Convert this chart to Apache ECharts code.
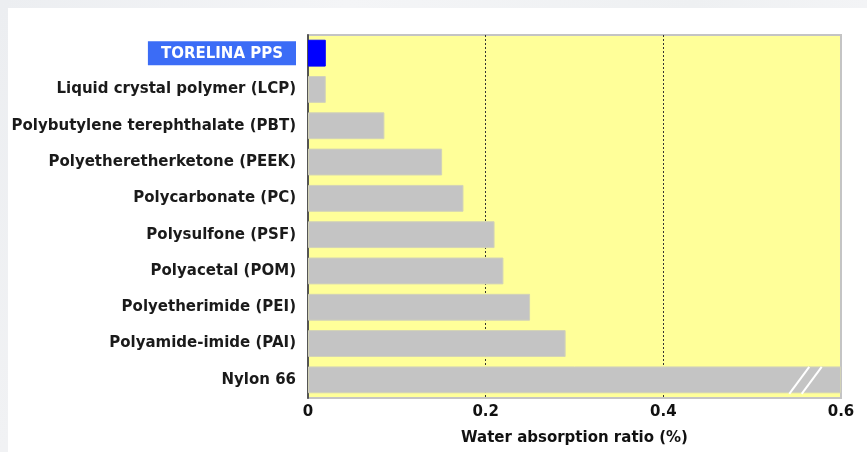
<!DOCTYPE html>
<html><head><meta charset="utf-8">
<script src="https://cdn.jsdelivr.net/npm/echarts@6/dist/echarts.min.js"></script>
<style>
html,body{margin:0;padding:0;background:#fff;}
#bandTop{position:absolute;left:0;top:0;width:867px;height:8px;background:linear-gradient(90deg,#eceef1,#f4f5f7 40%,#eef0f2 80%,#f3f4f6);}
#bandLeft{position:absolute;left:0;top:0;width:8px;height:452px;background:linear-gradient(180deg,#eceef1,#f1f2f4);}
#chart{position:absolute;left:0;top:0;width:867px;height:452px;}
</style></head>
<body>
<div id="bandTop"></div><div id="bandLeft"></div>
<div id="chart"></div>
<script>
const categories = ['TORELINA PPS','Liquid crystal polymer (LCP)','Polybutylene terephthalate (PBT)','Polyetheretherketone (PEEK)','Polycarbonate (PC)','Polysulfone (PSF)','Polyacetal (POM)','Polyetherimide (PEI)','Polyamide-imide (PAI)','Nylon 66'];
const values = [0.02, 0.02, 0.086, 0.151, 0.175, 0.21, 0.22, 0.25, 0.29, 0.6];
const xTicks = [0, 0.2, 0.4, 0.6];
const xTitle = 'Water absorption ratio (%)';
const breakAt = [0.553, 0.567];

const chart = echarts.init(document.getElementById('chart'), null, {renderer:'canvas'});
const font = '"DejaVu Sans", Verdana, sans-serif';
chart.setOption({
  animation:false,
  backgroundColor:'transparent',
  grid:{left:308,right:26,top:35,bottom:54,show:true,backgroundColor:'#ffff99',borderColor:'#c4c4c4',borderWidth:2},
  xAxis:{type:'value',min:0,max:0.6,interval:0.2,
    axisLine:{show:false},axisTick:{show:false},
    splitLine:{show:true,showMinLine:false,showMaxLine:false,lineStyle:{color:'#333',type:[2,2],width:1}},
    axisLabel:{color:'#111',fontWeight:'bold',fontSize:15,fontFamily:font,margin:7,
      formatter:v=>{const t=xTicks.find(x=>Math.abs(x-v)<1e-9);return t===undefined?'':String(t);}},
    name:xTitle,nameLocation:'middle',nameGap:33,
    nameTextStyle:{color:'#111',fontWeight:'bold',fontSize:15,fontFamily:font}
  },
  yAxis:{type:'category',data:categories,inverse:true,
    axisLine:{show:true,lineStyle:{color:'#555',width:2}},axisTick:{show:false},
    splitLine:{show:false},
    axisLabel:{margin:12,fontSize:15,fontWeight:'bold',fontFamily:font,color:'#1a1a1a',
      formatter:(v,i)=> i===0 ? '{hl|'+v+'}' : v,
      rich:{hl:{color:'#fff',backgroundColor:'#3b6cf6',fontWeight:'bold',fontSize:15,fontFamily:font,padding:[5,13,4,13]}}
    }
  },
  series:[{type:'bar',barCategoryGap:'26%',
    data:values.map((v,i)=>({value:v,itemStyle:{color:i===0?'#0000ff':'#c4c4c4',borderColor:i===0?'#0000ff':'#d2d2b8',borderWidth:1}})),
    silent:true
  }]
});

function drawBreaks(){
  const last = categories[categories.length-1];
  const c = chart.convertToPixel({gridIndex:0},[0,last]);
  const h = 30;
  const els = breakAt.map(v=>{
    const x = chart.convertToPixel({gridIndex:0},[v,last])[0];
    return {type:'line',shape:{x1:x-10,y1:c[1]+h/2-1,x2:x+10,y2:c[1]-h/2+2},style:{stroke:'#fff',lineWidth:2},z:100};
  });
  chart.setOption({graphic:els});
}
drawBreaks();
</script>
</body></html>
